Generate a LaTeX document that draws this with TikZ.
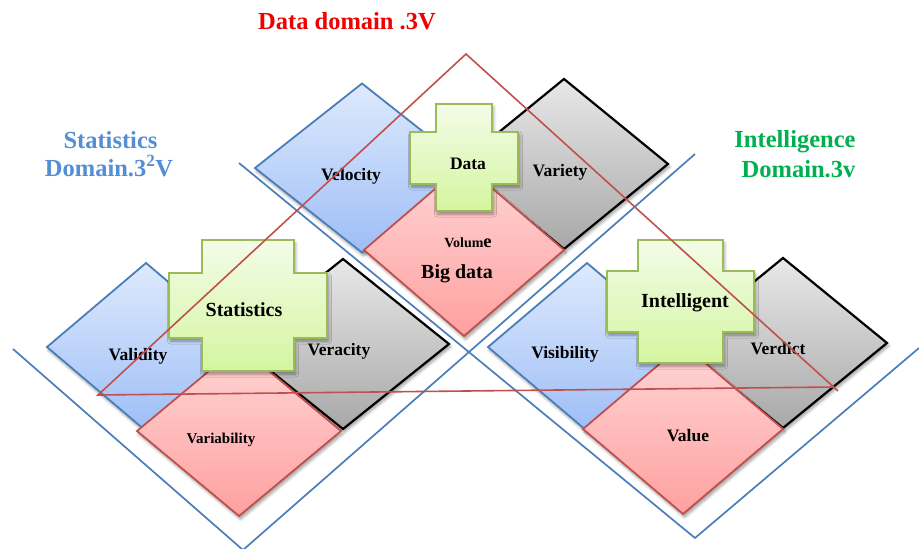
\documentclass[tikz,border=0pt]{standalone}
\usepackage{fontspec}
\setmainfont{Liberation Serif}
\usetikzlibrary{shadows.blur}

\definecolor{edgeblue}{RGB}{74,126,187}
\definecolor{edgered}{RGB}{192,80,77}
\definecolor{edgegreen}{RGB}{155,187,89}
\definecolor{titlered}{RGB}{240,0,0}
\definecolor{titleblue}{RGB}{85,142,213}
\definecolor{titlegreen}{RGB}{0,176,80}

% rhombus: style, centre x, centre y, half width, half height
\newcommand\rhomb[5]{%
  \path[#1] ({#2-#4},#3) -- (#2,{#3-#5}) -- ({#2+#4},#3) -- (#2,{#3+#5}) -- cycle;}
% plus sign: vertical bar x1 x2 y1 y2, horizontal bar X1 X2 Y1 Y2
\newcommand\plusbox[8]{%
  \path[crossbox] (#1,#3) -- (#2,#3) -- (#2,#7) -- (#6,#7) -- (#6,#8) -- (#2,#8)
    -- (#2,#4) -- (#1,#4) -- (#1,#8) -- (#5,#8) -- (#5,#7) -- (#1,#7) -- cycle;}

\tikzset{
  softshadow/.style={blur shadow={shadow xshift=1.5pt, shadow yshift=-3pt,
      shadow blur steps=6, shadow opacity=40, shadow blur radius=3pt}},
  bluebox/.style={draw=edgeblue, line width=1.8pt, line join=miter,
      top color={rgb,255:red,222;green,234;blue,253},
      bottom color={rgb,255:red,158;green,190;blue,246}, softshadow},
  graybox/.style={draw=black, line width=2.2pt, line join=miter,
      top color={rgb,255:red,232;green,232;blue,232},
      bottom color={rgb,255:red,168;green,168;blue,168}, softshadow},
  pinkbox/.style={draw=edgered, line width=1.8pt, line join=miter,
      top color={rgb,255:red,255;green,214;blue,214},
      bottom color={rgb,255:red,255;green,160;blue,160}, softshadow},
  crossbox/.style={draw=edgegreen, line width=2pt, line join=miter,
      top color={rgb,255:red,243;green,252;blue,232},
      bottom color={rgb,255:red,212;green,245;blue,160}, softshadow},
  domainline/.style={draw=edgeblue, line width=1.7pt},
  redline/.style={draw=edgered, line width=1.6pt, line join=miter},
  lbl/.style={anchor=base, inner sep=0pt, font=\bfseries\fontsize{17.5}{18}\selectfont},
  biglbl/.style={anchor=base, inner sep=0pt, font=\bfseries\fontsize{20}{22}\selectfont},
  title/.style={anchor=base, inner sep=0pt, font=\bfseries\fontsize{24.5}{26}\selectfont}
}

\begin{document}
\begin{tikzpicture}[x=1pt,y=-1pt]
\useasboundingbox (0,0) rectangle (919,549);

% domain boundaries
\coordinate (a1) at (239,163);
\coordinate (a2) at (695,538);
\coordinate (a3) at (919,348);
\coordinate (b1) at (695,154);
\coordinate (b2) at (243,550);
\coordinate (b3) at (13,349);
\draw[domainline] (a1) -- (a2) -- (a3);
\draw[domainline] (b1) -- (b2) -- (b3);

% data domain
\rhomb{bluebox}{362}{168}{107}{84.5}
\rhomb{graybox}{564}{164}{104}{85}
\rhomb{pinkbox}{464}{250}{100}{86}
\plusbox{436}{492}{104}{211}{410}{518}{132}{184}

% statistics domain
\rhomb{bluebox}{146}{347}{99}{84}
\rhomb{graybox}{343}{344}{106}{85}
\rhomb{pinkbox}{239}{431}{102}{85}
\plusbox{202}{294}{240}{371}{169}{327}{273}{338}

% intelligence domain
\rhomb{bluebox}{587}{347}{99}{84}
\rhomb{graybox}{783}{343}{104}{85}
\rhomb{pinkbox}{683}{429}{100}{85}
\plusbox{638}{723}{240}{363}{607}{754}{271}{332}

% labels inside the shapes
\node[lbl] (data) at (468,169) {Data};
\node[lbl] (velocity) at (351,180) {Velocity};
\node[lbl] (variety) at (560,176) {Variety};
\node[anchor=base, inner sep=0pt] (volume) at (468,247)
  {\bfseries\fontsize{14}{14}\selectfont Volum\fontsize{18.5}{18}\selectfont e};
\node[biglbl] (bigdata) at (457,278) {Big data};

\node[biglbl] (statistics) at (244,316) {Statistics};
\node[lbl] (validity) at (138,360) {Validity};
\node[lbl] (veracity) at (339,355) {Veracity};
\node[anchor=base, inner sep=0pt, font=\bfseries\fontsize{15}{16}\selectfont]
  (variability) at (221,443) {Variability};

\node[biglbl] (intelligent) at (685,307) {Intelligent};
\node[lbl] (visibility) at (565,358) {Visibility};
\node[lbl] (verdict) at (778,354) {Verdict};
\node[lbl] (value) at (688,441) {Value};

% red triangle across the three domains
\coordinate (r1) at (466,54);
\coordinate (r2) at (98,395);
\coordinate (r3) at (834,387);
\coordinate (r4) at (838,391);
\draw[redline] (r4) -- (r1) -- (r2) -- (r3);

% domain titles
\node[title, text=titlered] (t1) at (347,29) {Data domain .3V};
\node[title, text=titleblue] (t2) at (110.5,148) {Statistics};
\node[title, text=titleblue] (t3) at (109,176) {Domain.3\textsuperscript{2}V};
\node[title, text=titlegreen] (t4) at (795,147) {Intelligence};
\node[title, text=titlegreen] (t5) at (798.5,177) {Domain.3v};
\end{tikzpicture}
\end{document}
